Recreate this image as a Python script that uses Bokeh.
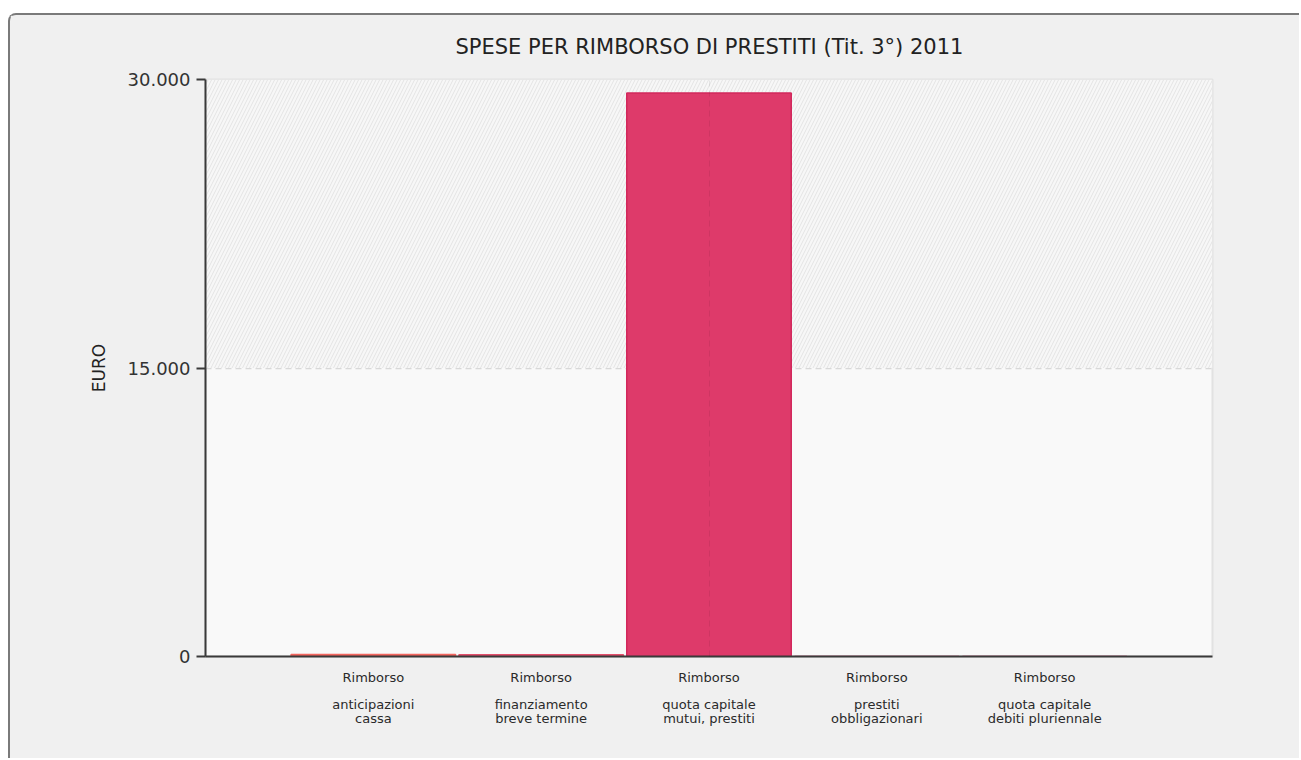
from bokeh.plotting import figure
from bokeh.models import Range1d, FixedTicker, BoxAnnotation
from bokeh.embed import file_html
from bokeh.resources import INLINE

title_text = "SPESE PER RIMBORSO DI PRESTITI (Tit. 3°) 2011"
x_pos = [1, 2, 3, 4, 5]
cat_labels = [
    "Rimborso\n\nanticipazioni\ncassa",
    "Rimborso\n\nfinanziamento\nbreve termine",
    "Rimborso\n\nquota capitale\nmutui, prestiti",
    "Rimborso\n\nprestiti\nobbligazionari",
    "Rimborso\n\nquota capitale\ndebiti pluriennale",
]
values = [100, 90, 29300, 0, 0]
bar_colors = ["#f4665f", "#e44f6c", "#de3a6a", "#de3a6a", "#de3a6a"]
line_colors = ["#f4665f", "#e44f6c", "#d2285c", "#d2285c", "#d2285c"]
y_ticks = [0, 15000, 30000]
y_tick_labels = ["0", "15.000", "30.000"]

FONT = "DejaVu Sans"

p = figure(width=1291, height=745, output_backend="svg", toolbar_location=None,
           x_range=Range1d(0, 6), y_range=Range1d(0, 30000),
           title=title_text, min_border_left=195, min_border_right=89,
           min_border_top=64, min_border_bottom=104)
p.margin = (13, 0, 0, 8)
p.styles = {"border": "2px solid #7a7a7a", "border-right": "none",
            "border-bottom": "none", "border-radius": "8px 0 0 0",
            "background": "#f0f0f0"}

p.border_fill_color = "#f0f0f0"
p.background_fill_color = "#f9f9f9"
p.outline_line_color = "#e2e2e2"
p.outline_line_width = 2

p.title.text_font = FONT
p.title.text_font_size = "21px"
p.title.text_font_style = "normal"
p.title.text_color = "#222222"
p.title.align = "left"
p.title.vertical_align = "top"
p.title.offset = 250
p.title.standoff = 38

band = BoxAnnotation(bottom=15000, top=30000, fill_color="#f7f7f7", fill_alpha=1,
                     hatch_pattern="right_diagonal_line", hatch_color="#e4e4e4",
                     hatch_scale=7, hatch_weight=1, line_color=None, level="underlay")
p.add_layout(band)

p.vbar(x=x_pos, top=values, width=0.98, fill_color=bar_colors,
       line_color=line_colors, line_width=1.5, fill_alpha=1)

# y axis
p.yaxis.ticker = FixedTicker(ticks=y_ticks)
p.yaxis.major_label_overrides = {t: l for t, l in zip(y_ticks, y_tick_labels)}
p.yaxis.axis_label = "EURO"
p.yaxis.axis_label_text_font = FONT
p.yaxis.axis_label_text_font_size = "17px"
p.yaxis.axis_label_text_font_style = "normal"
p.yaxis.axis_label_text_color = "#222222"
p.yaxis.axis_label_standoff = 16
p.yaxis.major_label_text_font = FONT
p.yaxis.major_label_text_font_size = "18px"
p.yaxis.major_label_text_color = "#333333"
p.yaxis.axis_line_color = "#3a3a3a"
p.yaxis.axis_line_width = 2
p.yaxis.major_tick_line_color = "#3a3a3a"
p.yaxis.major_tick_line_width = 2
p.yaxis.major_tick_out = 9
p.yaxis.major_tick_in = 0
p.yaxis.minor_tick_line_color = None
p.yaxis.major_label_standoff = 6

# x axis
p.xaxis.ticker = FixedTicker(ticks=x_pos)
p.xaxis.major_label_overrides = {x: l for x, l in zip(x_pos, cat_labels)}
p.xaxis.major_label_text_font = FONT
p.xaxis.major_label_text_font_size = "13px"
p.xaxis.major_label_text_color = "#2a2a2a"
p.xaxis.major_label_text_line_height = 0.93
p.xaxis.axis_line_color = "#3a3a3a"
p.xaxis.axis_line_width = 2
p.xaxis.major_tick_line_color = None
p.xaxis.minor_tick_line_color = None
p.xaxis.major_label_standoff = 7

# grids
p.ygrid.ticker = FixedTicker(ticks=[15000])
p.ygrid.grid_line_color = "#d8d8d8"
p.ygrid.grid_line_dash = "6 4"
p.ygrid.grid_line_width = 1.5
p.xgrid.ticker = FixedTicker(ticks=[3])
p.xgrid.grid_line_color = "#000000"
p.xgrid.grid_line_alpha = 0.07
p.xgrid.grid_line_dash = "6 4"
p.xgrid.level = "overlay"

open("out.html", "w").write(file_html(p, INLINE))
